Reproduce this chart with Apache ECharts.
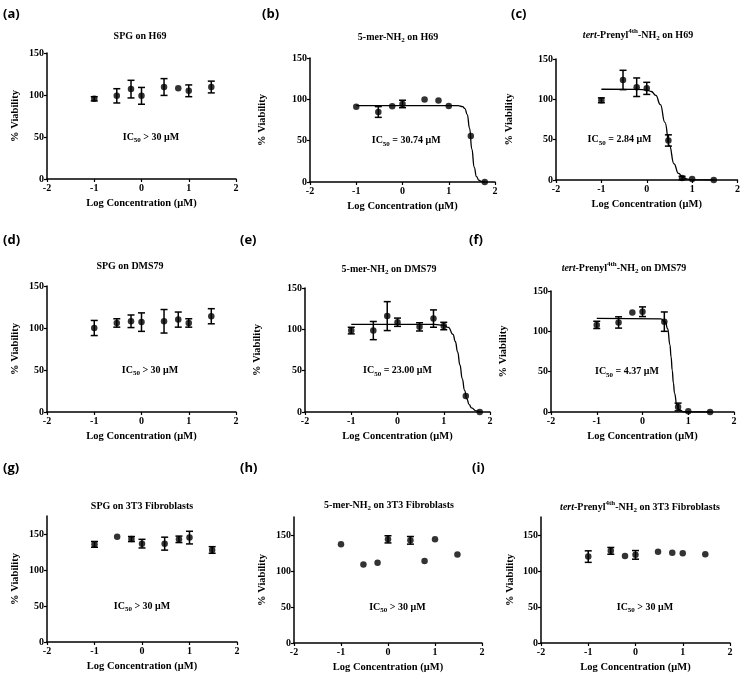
<!DOCTYPE html>
<html>
<head>
<meta charset="utf-8">
<script src="https://cdn.jsdelivr.net/npm/echarts@6/dist/echarts.min.js"></script>
<style>
  html, body { margin: 0; padding: 0; background: #fff; }
  #chart { width: 743px; height: 676px; }
</style>
</head>
<body>
<div id="chart"></div>
<script>
// log10 of the concentrations (uM): 0.1, 0.3, 0.6, 1, 3, 6, 10, 30, 60
const logConc = [-1, -0.523, -0.222, 0, 0.477, 0.778, 1, 1.477];
const logConcFull = [-1, -0.523, -0.222, 0, 0.477, 0.778, 1, 1.477, 1.778];

// % viability, mean and error (0 = no visible error bar)
const spgH69 = [95.5, 99, 107, 99, 109.5, 108, 105, 109.5];
const spgH69Err = [2.5, 8.5, 10.5, 10, 10, 0, 7, 7];
const merH69 = [91, 84.7, 91.6, 94.4, 99.7, 98.5, 92, 55.5, 0];
const merH69Err = [0, 6.5, 0, 4.5, 0, 0, 0, 0, 0];
const prenH69 = [98.8, 124, 115, 113.6, 49, 2.5, 1.2, 0];
const prenH69Err = [3, 12, 11.5, 7.5, 7, 2, 0, 0];

const spgDMS = [100, 106, 108, 107, 108, 110, 106, 114];
const spgDMSErr = [9, 5, 7.5, 11, 14, 9, 5, 9];
const merDMS = [98.5, 98.5, 116, 108.6, 103, 113, 104, 19.5, 0];
const merDMSErr = [4, 11, 17.5, 5, 5, 10.5, 4.5, 0, 0];
const prenDMS = [108, 111, 123.5, 124.3, 112, 6.2, 0.8, 0];
const prenDMSErr = [4.5, 7, 0, 6, 12, 4.8, 0, 0];

const spg3T3 = [135.6, 146.3, 143, 136.6, 136.6, 142.6, 145, 127.8];
const spg3T3Err = [4, 0, 3.5, 6, 9, 4.5, 8.8, 4.6];
const mer3T3 = [137, 109, 111.5, 144, 142.6, 113.8, 144, 123];
const mer3T3Err = [0, 0, 0, 5, 5.3, 0, 0, 0];
const pren3T3 = [120, 128, 121, 122.4, 126.7, 125.3, 124.8, 123.4];
const pren3T3Err = [8, 4.7, 0, 6, 0, 0, 0, 0];

// fitted curves
const merH69CurveX = [-1, 1.0, 1.2, 1.3, 1.35, 1.4, 1.45, 1.5, 1.55, 1.6, 1.65, 1.7, 1.778];
const merH69CurveY = [92.5, 92.5, 92.3, 91.1, 88.8, 81.6, 65.1, 39.7, 17.8, 6.5, 2.2, 0.7, 0.1];
const prenH69CurveX = [-1, -0.2, 0, 0.1, 0.2, 0.3, 0.4, 0.5, 0.6, 0.7, 0.8, 0.9, 1.0, 1.2, 1.477];
const prenH69CurveY = [112.5, 112.4, 111.5, 109.7, 104.9, 93.4, 71.4, 42.8, 20.1, 8.1, 3.0, 1.1, 0.4, 0.05, 0];
const merDMSCurveX = [-1, 0.8, 1.0, 1.1, 1.2, 1.25, 1.3, 1.35, 1.4, 1.45, 1.5, 1.55, 1.6, 1.7, 1.778];
const merDMSCurveY = [106, 105.9, 104.9, 102.3, 93.9, 85.3, 72.7, 56.9, 40.4, 26.1, 15.7, 8.9, 5.0, 1.4, 0.5];
const prenDMSCurveX = [-1, 0.4, 0.5, 0.55, 0.6, 0.625, 0.65, 0.675, 0.7, 0.75, 0.8, 0.9, 1.0, 1.477];
const prenDMSCurveY = [116, 115.5, 111.6, 103.2, 83.2, 68.2, 51.7, 36.1, 23.5, 8.6, 2.9, 0.3, 0.05, 0];

const yTicks = [0, 50, 100, 150];

const SERIF = '"Liberation Serif", "Times New Roman", serif';

const panels = [
  { letter: '(a)', title: 'SPG on H69', x: logConc, y: spgH69, err: spgH69Err, ic50: 'IC{sub|50} > 30 μM', icAt: [0.2, 50],
    grid: [47, 53, 189, 126], ymax: 150, nameGap: 26, titleAt: [140, 36], letterAt: [3, 14] },
  { letter: '(b)', title: '5-mer-NH{sub|2} on H69', x: logConcFull, y: merH69, err: merH69Err, cx: merH69CurveX, cy: merH69CurveY,
    ic50: 'IC{sub|50} = 30.74 μM', icAt: [0.08, 50], grid: [310, 58, 185, 124], ymax: 150, nameGap: 42, titleAt: [398, 37], letterAt: [262, 14] },
  { letter: '(c)', title: '{it|tert}-Prenyl{sup|4th}-NH{sub|2} on H69', x: logConc, y: prenH69, err: prenH69Err, cx: prenH69CurveX, cy: prenH69CurveY,
    ic50: 'IC{sub|50} = 2.84 μM', icAt: [-0.6, 50], grid: [556, 59, 184, 121], ymax: 150, nameGap: 41, titleAt: [638, 35], letterAt: [511, 14] },
  { letter: '(d)', title: 'SPG on DMS79', x: logConc, y: spgDMS, err: spgDMSErr, ic50: 'IC{sub|50} > 30 μM', icAt: [0.18, 50],
    grid: [47, 286, 189, 126], ymax: 150, nameGap: 26, titleAt: [130, 266], letterAt: [3, 240] },
  { letter: '(e)', title: '5-mer-NH{sub|2} on DMS79', x: logConcFull, y: merDMS, err: merDMSErr, cx: merDMSCurveX, cy: merDMSCurveY,
    ic50: 'IC{sub|50} = 23.00 μM', icAt: [0, 50], grid: [305, 288, 185, 124], ymax: 150, nameGap: 42, titleAt: [389, 269], letterAt: [240, 240] },
  { letter: '(f)', title: '{it|tert}-Prenyl{sup|4th}-NH{sub|2} on DMS79', x: logConc, y: prenDMS, err: prenDMSErr, cx: prenDMSCurveX, cy: prenDMSCurveY,
    ic50: 'IC{sub|50} = 4.37 μM', icAt: [-0.34, 50], grid: [551, 291, 183, 121], ymax: 150, nameGap: 42, titleAt: [624, 268], letterAt: [469, 240] },
  { letter: '(g)', title: 'SPG on 3T3 Fibroblasts', x: logConc, y: spg3T3, err: spg3T3Err, ic50: 'IC{sub|50} > 30 μM', icAt: [0, 50],
    grid: [47, 516, 190, 126], ymax: 175, nameGap: 26, titleAt: [142, 506], letterAt: [3, 468] },
  { letter: '(h)', title: '5-mer-NH{sub|2} on 3T3 Fibroblasts', x: logConc, y: mer3T3, err: mer3T3Err, ic50: 'IC{sub|50} > 30 μM', icAt: [0.2, 50],
    grid: [294, 517, 188, 126], ymax: 175, nameGap: 26, titleAt: [389, 505], letterAt: [240, 468] },
  { letter: '(i)', title: '{it|tert}-Prenyl{sup|4th}-NH{sub|2} on 3T3 Fibroblasts', x: logConc, y: pren3T3, err: pren3T3Err, ic50: 'IC{sub|50} > 30 μM', icAt: [0.2, 50],
    grid: [541, 517, 189, 126], ymax: 175, nameGap: 25, titleAt: [640, 507], letterAt: [472, 468] }
];

const richText = {
  sub: { fontFamily: SERIF, fontWeight: 'bold', fontSize: 7, lineHeight: 7, verticalAlign: 'bottom' },
  sup: { fontFamily: SERIF, fontWeight: 'bold', fontSize: 7, lineHeight: 7, verticalAlign: 'top' },
  it: { fontFamily: SERIF, fontWeight: 'bold', fontStyle: 'italic', fontSize: 10, lineHeight: 14 }
};

const axisFont = { fontFamily: SERIF, fontWeight: 'bold', fontSize: 10, color: '#000' };

const grids = [], xAxes = [], yAxes = [], series = [], graphics = [];

panels.forEach((p, i) => {
  grids.push({ left: p.grid[0], top: p.grid[1], width: p.grid[2], height: p.grid[3], containLabel: false });
  xAxes.push({
    gridIndex: i, type: 'value', min: -2, max: 2, interval: 1,
    name: 'Log Concentration (μM)', nameLocation: 'middle', nameGap: 19,
    nameTextStyle: { fontFamily: SERIF, fontWeight: 'bold', fontSize: 10.5, color: '#000' },
    axisLine: { onZero: false, lineStyle: { color: '#000', width: 1.5 } },
    axisTick: { length: 3, lineStyle: { color: '#000', width: 1.2 } },
    axisLabel: Object.assign({ margin: 4 }, axisFont),
    splitLine: { show: false }
  });
  yAxes.push({
    gridIndex: i, type: 'value', min: 0, max: p.ymax,
    name: '% Viability', nameLocation: 'middle', nameGap: p.nameGap,
    nameTextStyle: { fontFamily: SERIF, fontWeight: 'bold', fontSize: 10.5, color: '#000' },
    axisLine: { show: true, onZero: false, lineStyle: { color: '#000', width: 1.5 } },
    axisTick: { show: true, length: 3, customValues: yTicks, lineStyle: { color: '#000', width: 1.2 } },
    axisLabel: Object.assign({ margin: 3, customValues: yTicks }, axisFont),
    splitLine: { show: false }
  });

  const pts = p.x.map((x, k) => [x, p.y[k]]);
  const errs = p.x.map((x, k) => [x, p.y[k], p.err[k]]);

  if (p.cx) {
    series.push({
      type: 'line', xAxisIndex: i, yAxisIndex: i,
      data: p.cx.map((x, k) => [x, p.cy[k]]),
      showSymbol: false, smooth: true, smoothMonotone: 'x',
      lineStyle: { color: '#000', width: 1.3 }, silent: true, z: 2
    });
  }
  series.push({
    type: 'custom', xAxisIndex: i, yAxisIndex: i, data: errs, z: 3,
    renderItem: (params, api) => {
      const e = api.value(2);
      if (!e) return null;
      const x = api.value(0), y = api.value(1);
      const top = api.coord([x, y + e]);
      const bot = api.coord([x, y - e]);
      const st = { stroke: '#000', lineWidth: 1.5 };
      return {
        type: 'group', children: [
          { type: 'line', shape: { x1: top[0], y1: top[1], x2: bot[0], y2: bot[1] }, style: st },
          { type: 'line', shape: { x1: top[0] - 3.5, y1: top[1], x2: top[0] + 3.5, y2: top[1] }, style: st },
          { type: 'line', shape: { x1: bot[0] - 3.5, y1: bot[1], x2: bot[0] + 3.5, y2: bot[1] }, style: st }
        ]
      };
    }
  });
  series.push({
    type: 'scatter', xAxisIndex: i, yAxisIndex: i, data: pts,
    symbol: 'circle', symbolSize: 6.5, itemStyle: { color: '#000' }, z: 4,
    markPoint: {
      symbol: 'circle', symbolSize: 0, silent: true,
      data: [{ coord: p.icAt }],
      label: {
        show: true, position: 'inside', formatter: p.ic50,
        fontFamily: SERIF, fontWeight: 'bold', fontSize: 10, lineHeight: 14, color: '#000',
        rich: richText
      }
    }
  });

  graphics.push({
    type: 'text', x: p.titleAt[0], y: p.titleAt[1],
    style: {
      text: p.title, textAlign: 'center', textVerticalAlign: 'middle',
      fontFamily: SERIF, fontWeight: 'bold', fontSize: 10, lineHeight: 14, fill: '#000', rich: richText
    }
  });
  graphics.push({
    type: 'text', x: p.letterAt[0], y: p.letterAt[1],
    style: {
      text: p.letter, textAlign: 'left', textVerticalAlign: 'middle',
      fontFamily: '"Open Sans", "Liberation Sans", sans-serif', fontWeight: 'bold', fontSize: 13, fill: '#000'
    }
  });
});

const chart = echarts.init(document.getElementById('chart'));
chart.setOption({
  backgroundColor: '#fff',
  animation: false,
  grid: grids,
  xAxis: xAxes,
  yAxis: yAxes,
  series: series,
  graphic: graphics
});
</script>
</body>
</html>
